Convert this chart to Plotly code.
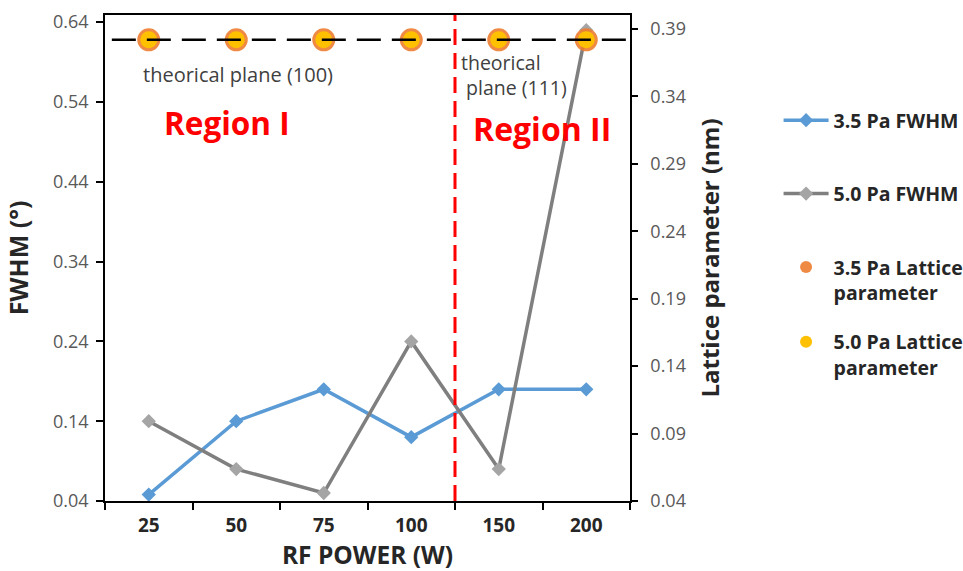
import plotly.graph_objects as go

# RF power levels (W), shown as evenly spaced categories
rf_power = ["25", "50", "75", "100", "150", "200"]

# FWHM of the main diffraction peak (degrees)
fwhm_35 = [0.048, 0.14, 0.18, 0.12, 0.18, 0.18]
fwhm_50 = [0.14, 0.08, 0.05, 0.24, 0.08, 0.63]

# Lattice parameter (nm)
lattice_35 = [0.382, 0.382, 0.382, 0.382, 0.382, 0.382]
lattice_50 = [0.382, 0.382, 0.382, 0.382, 0.382, 0.382]

# Theoretical lattice parameter reference (nm)
lattice_theory = 0.382
# Boundary between region I and region II (between 100 W and 150 W)
region_boundary = 3.5

left_ticks = [0.04, 0.14, 0.24, 0.34, 0.44, 0.54, 0.64]
right_ticks = [0.04, 0.09, 0.14, 0.19, 0.24, 0.29, 0.34, 0.39]

FONT = "Open Sans"
TICK_COLOR = "#595959"

fig = go.Figure()

fig.add_trace(go.Scatter(
    x=rf_power, y=fwhm_35, name="3.5 Pa FWHM", mode="lines+markers",
    line=dict(color="#5B9BD5", width=3.5),
    marker=dict(symbol="diamond", size=11, color="#5B9BD5"),
    legend="legend",
))
fig.add_trace(go.Scatter(
    x=rf_power, y=fwhm_50, name="5.0 Pa FWHM", mode="lines+markers",
    line=dict(color="#7F7F7F", width=3.5),
    marker=dict(symbol="diamond", size=11, color="#A5A5A5"),
    legend="legend",
))
fig.add_trace(go.Scatter(
    x=rf_power, y=lattice_35, name="3.5 Pa Lattice<br>parameter", mode="markers",
    marker=dict(symbol="circle", size=23, color="#ED7D31", opacity=0.9),
    yaxis="y2", legend="legend2",
))
fig.add_trace(go.Scatter(
    x=rf_power, y=lattice_50, name="5.0 Pa Lattice<br>parameter", mode="markers",
    marker=dict(symbol="circle", size=17, color="#FFC000"),
    yaxis="y2", legend="legend2",
))

# Theoretical lattice parameter line
fig.add_shape(type="line", xref="paper", x0=0.013, x1=1.013,
              yref="y2", y0=lattice_theory, y1=lattice_theory,
              line=dict(color="black", width=2.5, dash="24px,11px"), layer="above")
# Region separator
fig.add_shape(type="line", xref="x", x0=region_boundary, x1=region_boundary,
              yref="paper", y0=0, y1=1,
              line=dict(color="#FF0000", width=3, dash="16px,8px"), layer="above")

annotations = [
    dict(text="theorical plane (100)", x=0.253, y=0.877, xanchor="center",
         font=dict(size=20, color="#404040")),
    dict(text="theorical<br> plane (111)", x=0.675, y=0.877, xanchor="left", align="left",
         font=dict(size=19.5, color="#404040")),
    dict(text="<b>Region I</b>", x=0.232, y=0.778, xanchor="center",
         font=dict(size=31.5, color="#FF0000")),
    dict(text="<b>Region II</b>", x=0.832, y=0.767, xanchor="center",
         font=dict(size=32, color="#FF0000")),
]
for a in annotations:
    a.update(xref="paper", yref="paper", yanchor="middle", showarrow=False)

fig.update_layout(
    width=963, height=571,
    margin=dict(l=105, r=333, t=15, b=70, autoexpand=False),
    paper_bgcolor="white", plot_bgcolor="white",
    font=dict(family=FONT, color="black"),
    annotations=annotations,
    xaxis=dict(
        type="category", range=[-0.5, 5.5],
        showline=True, linecolor="black", linewidth=1.5, mirror=True,
        ticks="outside", tickson="boundaries", ticklen=7, tickcolor="black", tickwidth=1.5,
        tickfont=dict(size=19, color="#262626", family=FONT, weight="bold"),
        ticklabelstandoff=6,
        showgrid=False, zeroline=False,
        title=dict(text="<b>RF POWER (W)</b>", font=dict(size=24.5, color="#262626"), standoff=9),
    ),
    yaxis=dict(
        range=[0.04, 0.649], tickvals=left_ticks, ticktext=[f"{v:.2f}" for v in left_ticks],
        showline=True, linecolor="black", linewidth=1.5,
        ticks="outside", ticklen=7, tickcolor="black", tickwidth=1.5,
        tickfont=dict(size=18, color=TICK_COLOR),
        ticklabelstandoff=4,
        showgrid=False, zeroline=False,
        title=dict(text="<b>FWHM (°)</b>", font=dict(size=25, color="#262626"), standoff=17),
    ),
    yaxis2=dict(
        overlaying="y", side="right",
        range=[0.04, 0.4004], tickvals=right_ticks, ticktext=[f"{v:.2f}" for v in right_ticks],
        showline=True, linecolor="black", linewidth=1.5,
        ticks="outside", ticklen=6, tickcolor="black", tickwidth=1.5,
        tickfont=dict(size=18, color=TICK_COLOR),
        ticklabelstandoff=9,
        showgrid=False, zeroline=False,
        title=dict(text="<b>Lattice parameter (nm)</b>", font=dict(size=24, color="#262626"), standoff=17),
    ),
    legend=dict(
        x=1.283, y=0.823, xanchor="left", yanchor="top",
        font=dict(size=19.5, color="#262626", weight="bold"),
        tracegroupgap=45, itemwidth=45, bgcolor="rgba(0,0,0,0)", valign="top",
    ),
    legend2=dict(
        x=1.283, y=0.521, xanchor="left", yanchor="top",
        font=dict(size=19.5, color="#262626", weight="bold"),
        tracegroupgap=21, itemwidth=45, bgcolor="rgba(0,0,0,0)", valign="top",
        itemsizing="constant",
    ),
)

# give each legend entry its own group so the gap applies between entries
for i, tr in enumerate(fig.data):
    tr.legendgroup = f"g{i}"

fig.write_html("out.html")
